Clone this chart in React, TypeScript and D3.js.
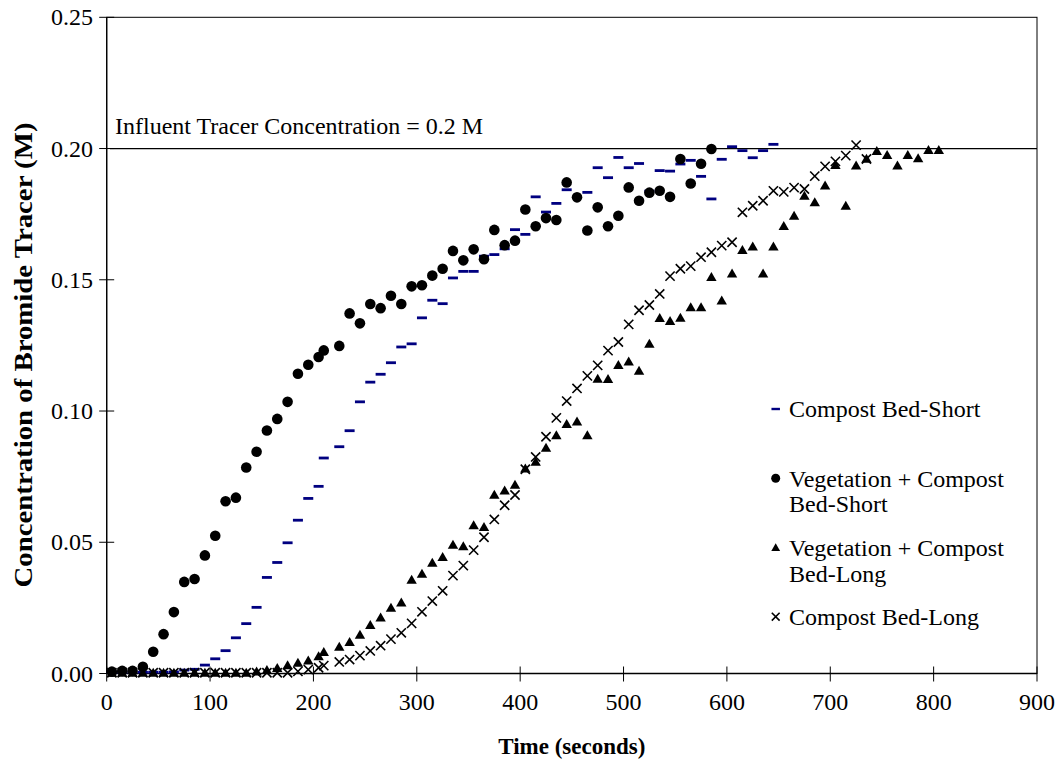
import React from 'react';
import * as d3 from 'd3';

const WIDTH = 1059;
const HEIGHT = 765;

// Compost Bed-Short (navy dashes)
const timeCompostShort = [5, 15, 25, 35, 45, 55, 65, 75, 85, 95, 105, 115, 125, 135, 145, 155, 165, 175, 185, 195, 205, 210, 225, 235, 245, 255, 265, 275, 285, 295, 305, 315, 325, 335, 345, 355, 365, 375, 385, 395, 405, 415, 425, 435, 445, 465, 475, 485, 495, 505, 515, 525, 535, 545, 555, 565, 575, 585, 595, 605, 615, 625, 635, 645];
const concCompostShort = [0.0005, 0.0005, 0.0005, 0.0005, 0.0005, 0.0005, 0.0006, 0.0013, 0.0016, 0.0032, 0.0056, 0.0087, 0.0136, 0.019, 0.0252, 0.0366, 0.0423, 0.0498, 0.0584, 0.0667, 0.0713, 0.0821, 0.0864, 0.0925, 0.1035, 0.111, 0.114, 0.1184, 0.1244, 0.1256, 0.1355, 0.1422, 0.1409, 0.1507, 0.1532, 0.1532, 0.159, 0.1596, 0.1618, 0.1691, 0.1673, 0.1816, 0.1758, 0.1791, 0.1843, 0.1833, 0.1927, 0.1889, 0.1966, 0.1927, 0.1943, 0.1838, 0.1916, 0.1914, 0.1941, 0.1955, 0.1894, 0.1808, 0.1959, 0.2007, 0.1992, 0.1965, 0.1992, 0.2016];

// Vegetation + Compost Bed-Short (circles)
const timeVegShort = [5, 15, 25, 35, 45, 55, 65, 75, 85, 95, 105, 115, 125, 135, 145, 155, 165, 175, 185, 195, 205, 210, 225, 235, 245, 255, 265, 275, 285, 295, 305, 315, 325, 335, 345, 355, 365, 375, 385, 395, 405, 415, 425, 435, 445, 455, 465, 475, 485, 495, 505, 515, 525, 535, 545, 555, 565, 575, 585];
const concVegShort = [0.0007, 0.001, 0.001, 0.0026, 0.0083, 0.015, 0.0234, 0.0349, 0.036, 0.045, 0.0525, 0.0656, 0.067, 0.0785, 0.0845, 0.0926, 0.097, 0.1035, 0.1142, 0.1176, 0.1206, 0.1231, 0.1248, 0.1372, 0.1334, 0.1408, 0.1392, 0.1439, 0.1408, 0.1475, 0.1479, 0.1516, 0.1542, 0.161, 0.1574, 0.1616, 0.1578, 0.169, 0.1632, 0.1649, 0.1768, 0.1704, 0.1735, 0.1728, 0.1871, 0.1814, 0.1688, 0.1776, 0.1704, 0.1744, 0.1852, 0.1801, 0.1832, 0.1839, 0.1816, 0.196, 0.1867, 0.1942, 0.1998];

// Vegetation + Compost Bed-Long (triangles)
const timeVegLong = [5, 15, 25, 35, 45, 55, 65, 75, 85, 95, 105, 115, 125, 135, 145, 155, 165, 175, 185, 195, 205, 210, 225, 235, 245, 255, 265, 275, 285, 295, 305, 315, 325, 335, 345, 355, 365, 375, 385, 395, 405, 415, 425, 435, 445, 455, 465, 475, 485, 495, 505, 515, 525, 535, 545, 555, 565, 575, 585, 595, 605, 615, 625, 635, 645, 655, 665, 675, 685, 695, 705, 715, 725, 735, 745, 755, 765, 775, 785, 795, 805];
const concVegLong = [0.0002, 0.0002, 0.0002, 0.0002, 0.0002, 0.0002, 0.0002, 0.0002, 0.0002, 0.0002, 0.0002, 0.0002, 0.0002, 0.0002, 0.0007, 0.0013, 0.002, 0.0031, 0.004, 0.0049, 0.0065, 0.0081, 0.0101, 0.0119, 0.0147, 0.0184, 0.0213, 0.025, 0.027, 0.0356, 0.0379, 0.0421, 0.0443, 0.049, 0.0484, 0.0564, 0.0557, 0.068, 0.0696, 0.0718, 0.078, 0.0806, 0.0859, 0.0907, 0.095, 0.0959, 0.0907, 0.1122, 0.1121, 0.1175, 0.1188, 0.1153, 0.1256, 0.1354, 0.1342, 0.1355, 0.1395, 0.1395, 0.151, 0.142, 0.1523, 0.1613, 0.1626, 0.1523, 0.1626, 0.1704, 0.1743, 0.1819, 0.1795, 0.1858, 0.1937, 0.1781, 0.1935, 0.196, 0.199, 0.1975, 0.1935, 0.1975, 0.1962, 0.1994, 0.1994];

// Compost Bed-Long (crosses)
const timeCompostLong = [5, 15, 25, 35, 45, 55, 65, 75, 85, 95, 105, 115, 125, 135, 145, 155, 165, 175, 185, 195, 205, 210, 225, 235, 245, 255, 265, 275, 285, 295, 305, 315, 325, 335, 345, 355, 365, 375, 385, 395, 405, 415, 425, 435, 445, 455, 465, 475, 485, 495, 505, 515, 525, 535, 545, 555, 565, 575, 585, 595, 605, 615, 625, 635, 645, 655, 665, 675, 685, 695, 705, 715, 725, 735];
const concCompostLong = [0.0003, 0.0003, 0.0003, 0.0003, 0.0003, 0.0003, 0.0003, 0.0003, 0.0003, 0.0003, 0.0003, 0.0003, 0.0003, 0.0003, 0.0003, 0.0003, 0.0003, 0.0003, 0.0008, 0.0015, 0.0022, 0.003, 0.0044, 0.0053, 0.0068, 0.0086, 0.0106, 0.0131, 0.0155, 0.0191, 0.0235, 0.0276, 0.0315, 0.0373, 0.0411, 0.047, 0.0519, 0.0587, 0.0641, 0.068, 0.0778, 0.0825, 0.0902, 0.0974, 0.1038, 0.1086, 0.1134, 0.1174, 0.123, 0.1263, 0.133, 0.1384, 0.1404, 0.1446, 0.1514, 0.1542, 0.1552, 0.1586, 0.1605, 0.163, 0.1643, 0.1757, 0.1782, 0.1801, 0.1839, 0.1835, 0.1851, 0.1846, 0.1895, 0.1932, 0.1951, 0.1973, 0.2013, 0.196];

const xTicks = [0, 100, 200, 300, 400, 500, 600, 700, 800, 900];
const yTicks = [0, 0.05, 0.1, 0.15, 0.2, 0.25];

const influentLevel = 0.2;
const influentLabel = 'Influent Tracer Concentration = 0.2 M';

const legendLabels = [
  ['Compost Bed-Short'],
  ['Vegetation + Compost', 'Bed-Short'],
  ['Vegetation + Compost', 'Bed-Long'],
  ['Compost Bed-Long'],
];

const FONT = '"Liberation Serif", "Times New Roman", serif';
const NAVY = '#000080';

type Pt = { t: number; c: number };
const zip = (ts: number[], cs: number[]): Pt[] => ts.map((t, i) => ({ t, c: cs[i] }));

function Marker({ kind, x, y, s = 1 }: { kind: string; x: number; y: number; s?: number }) {
  if (kind === 'dash') {
    return <rect x={x - 5 * s} y={y - 1.4 * s} width={10 * s} height={2.8 * s} fill={NAVY} />;
  }
  if (kind === 'circle') {
    return <circle cx={x} cy={y} r={5.3 * s} fill="#000" />;
  }
  if (kind === 'triangle') {
    const h = 5.2 * s;
    return (
      <path
        d={`M${x},${y - h} L${x + 5.2 * s},${y + 3.8 * s} L${x - 5.2 * s},${y + 3.8 * s} Z`}
        fill="#000"
      />
    );
  }
  const r = 4.6 * s;
  return (
    <path
      d={`M${x - r},${y - r} L${x + r},${y + r} M${x - r},${y + r} L${x + r},${y - r}`}
      stroke="#000"
      strokeWidth={1.6}
      fill="none"
    />
  );
}

export default function App() {
  const left = 106.7;
  const right = 1037;
  const top = 17.3;
  const bottom = 673.5;

  const x = d3.scaleLinear().domain([0, 900]).range([left, right]);
  const y = d3.scaleLinear().domain([0, 0.25]).range([bottom, top]);
  const fmtY = d3.format('.2f');

  const series = [
    { kind: 'dash', data: zip(timeCompostShort, concCompostShort) },
    { kind: 'circle', data: zip(timeVegShort, concVegShort) },
    { kind: 'triangle', data: zip(timeVegLong, concVegLong) },
    { kind: 'cross', data: zip(timeCompostLong, concCompostLong) },
  ];

  const legendX = 775.7;
  const legendTextX = 789;
  const legendRows = [409, 478.3, 547.7, 616.7];

  return (
    <svg
      width={WIDTH}
      height={HEIGHT}
      style={{ position: 'absolute', left: 0, top: 0, background: '#fff' }}
      fontFamily={FONT}
    >
      <rect x={0} y={0} width={WIDTH} height={HEIGHT} fill="#fff" />

      {/* plot frame */}
      <rect x={left} y={top} width={right - left} height={bottom - top} fill="none" stroke="#000" strokeWidth={1} />

      {/* y axis */}
      <line x1={left} x2={left} y1={top} y2={bottom} stroke="#000" strokeWidth={1.3} />
      {yTicks.map((v) => (
        <g key={`y${v}`}>
          <line x1={left - 7.5} x2={left + 7.5} y1={y(v)} y2={y(v)} stroke="#000" strokeWidth={1} />
          <text x={93} y={y(v) + 8} textAnchor="end" fontSize={24} fill="#000">
            {fmtY(v)}
          </text>
        </g>
      ))}

      {/* x axis */}
      <line x1={left} x2={right} y1={bottom} y2={bottom} stroke="#000" strokeWidth={1.3} />
      {xTicks.map((v) => (
        <g key={`x${v}`}>
          <line x1={x(v)} x2={x(v)} y1={bottom - 7} y2={bottom + 8} stroke="#000" strokeWidth={1} />
          <text x={x(v)} y={710} textAnchor="middle" fontSize={24} fill="#000">
            {v}
          </text>
        </g>
      ))}

      {/* axis titles */}
      <text x={(left + right) / 2} y={754} textAnchor="middle" fontSize={23} fontWeight="bold" fill="#000">
        Time (seconds)
      </text>
      <text
        transform={`translate(32, 355) rotate(-90)`}
        textAnchor="middle"
        fontSize={25}
        fontWeight="bold"
        fill="#000"
        textLength={465}
        lengthAdjust="spacingAndGlyphs"
      >
        Concentration of Bromide Tracer (M)
      </text>

      {/* influent reference line */}
      <line x1={110} x2={right} y1={y(influentLevel)} y2={y(influentLevel)} stroke="#000" strokeWidth={1.3} />
      <text x={115} y={134} fontSize={24} fill="#000">
        {influentLabel}
      </text>

      {/* data markers */}
      {series.map((s) => (
        <g key={s.kind}>
          {s.data.map((d, i) => (
            <Marker key={i} kind={s.kind} x={x(d.t)} y={y(d.c)} />
          ))}
        </g>
      ))}

      {/* legend */}
      {series.map((s, i) => (
        <g key={`lg${s.kind}`}>
          <Marker kind={s.kind} x={legendX} y={legendRows[i]} s={0.85} />
          {legendLabels[i].map((line, j) => (
            <text key={j} x={legendTextX} y={legendRows[i] + 8.4 + j * 25.6} fontSize={24} fill="#000">
              {line}
            </text>
          ))}
        </g>
      ))}
    </svg>
  );
}
